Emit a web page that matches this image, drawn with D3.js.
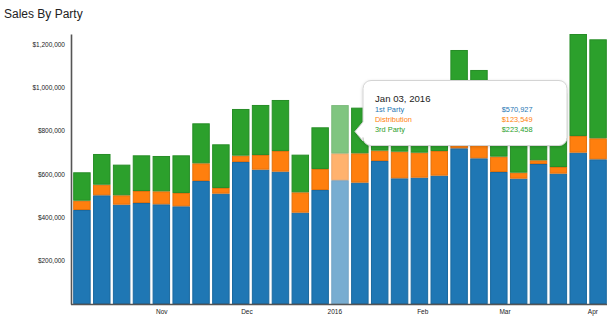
<!DOCTYPE html>
<html>
<head>
<meta charset="utf-8">
<script src="https://cdn.jsdelivr.net/npm/d3@7"></script>
<style>
  body { margin: 0; background: #fff; }
  svg { display: block; font-family: "Liberation Sans", Arial, sans-serif; }
  .axis text { fill: #222; font-size: 6.5px; }
  .axis path { stroke: #555; }
</style>
</head>
<body>
<script>
// weekly sales, split by party
const weeks = [
  '2015-10-04', '2015-10-11', '2015-10-18', '2015-10-25', '2015-11-01', '2015-11-08', '2015-11-15',
  '2015-11-22', '2015-11-29', '2015-12-06', '2015-12-13', '2015-12-20', '2015-12-27', '2016-01-03',
  '2016-01-10', '2016-01-17', '2016-01-24', '2016-01-31', '2016-02-07', '2016-02-14', '2016-02-21',
  '2016-02-28', '2016-03-06', '2016-03-13', '2016-03-20', '2016-03-27', '2016-04-03'
];
const firstParty = [
  433800, 501600, 458400, 466100, 460000, 450800, 567700, 509200, 655400, 620000, 610700, 421500, 526200, 570927,
  560000, 660000, 580000, 583000, 592300, 718500, 672300, 609200, 578400, 646100, 601500, 698400, 667700
];
const distribution = [
  42900, 49000, 43200, 55400, 60000, 61500, 81500, 26200, 29200, 67700, 95500, 93800, 96900, 123549,
  135400, 47700, 123000, 115300, 113900, 18000, 80000, 70800, 27600, 17000, 30800, 77000, 97000
];
const thirdParty = [
  131100, 141700, 141500, 164600, 163100, 173800, 184600, 201500, 215400, 230800, 235300, 173900, 192300, 223458,
  210700, 172000, 147000, 131700, 163800, 435700, 327700, 170000, 214000, 236900, 340000, 470600, 456800
];
const seriesNames = ['1st Party', 'Distribution', '3rd Party'];
const seriesColors = ['#1f77b4', '#ff7f0e', '#2ca02c'];
const yTicks = [200000, 400000, 600000, 800000, 1000000, 1200000];
const xTicks = ['2015-11-01', '2015-12-01', '2016-01-01', '2016-02-01', '2016-03-01', '2016-04-01'];
const hovered = 13;

const w = 613, h = 327;
const plotLeft = 72, plotRight = 608, plotTop = 34, plotBottom = 304;

const parse = d3.timeParse('%Y-%m-%d');
const keys = ['first', 'dist', 'third'];
const rows = weeks.map((d, i) => ({
  date: parse(d), first: firstParty[i], dist: distribution[i], third: thirdParty[i]
}));

const halfWeek = 3.5 * 24 * 3600 * 1000;
const x = d3.scaleTime()
  .domain([new Date(+rows[0].date - halfWeek), new Date(+rows[rows.length - 1].date + halfWeek)])
  .range([plotLeft, plotRight]);

const y = d3.scaleLinear()
  .domain([0, d3.max(rows, r => r.first + r.dist + r.third)])
  .range([plotBottom, plotTop]);

const pitch = x(rows[1].date) - x(rows[0].date);
const bw = pitch * 0.88;

const svg = d3.select('body').append('svg')
  .attr('width', w)
  .attr('height', h);

svg.append('text')
  .attr('x', 4)
  .attr('y', 18)
  .attr('font-size', 12)
  .attr('fill', '#222')
  .text('Sales By Party');

// stacked bars
const stacked = d3.stack().keys(keys)(rows);

const layers = svg.append('g').selectAll('g')
  .data(stacked)
  .enter()
  .append('g')
  .attr('fill', (d, i) => seriesColors[i])
  .attr('stroke', (d, i) => d3.color(seriesColors[i]).darker(0.35));

layers.selectAll('rect')
  .data(d => d)
  .enter()
  .append('rect')
  .attr('x', d => x(d.data.date) - bw / 2 + 0.5)
  .attr('y', d => y(d[1]) + 0.5)
  .attr('width', bw - 1)
  .attr('height', d => Math.max(0, y(d[0]) - y(d[1]) - 1))
  .attr('stroke-width', 1)
  .attr('opacity', (d, i) => i === hovered ? 0.6 : 1);

// axes
svg.append('g')
  .attr('class', 'axis')
  .attr('transform', `translate(${plotLeft - 1},0)`)
  .call(d3.axisLeft(y).tickValues(yTicks).tickSize(0).tickPadding(6).tickFormat(d3.format('$,.0f')))
  .call(g => g.select('.domain').attr('stroke-width', 1.6));

const monthFmt = d3.timeFormat('%b'), yearFmt = d3.timeFormat('%Y');
svg.append('g')
  .attr('class', 'axis')
  .attr('transform', `translate(0,${plotBottom})`)
  .call(d3.axisBottom(x).tickValues(xTicks.map(parse)).tickSize(0).tickPadding(5)
    .tickFormat(d => d.getMonth() === 0 ? yearFmt(d) : monthFmt(d)))
  .call(g => g.select('.domain').attr('stroke-width', 1.4).attr('d', `M${plotLeft - 1},0.5H${plotRight - 1}`));

// tooltip for the hovered week
const defs = svg.append('defs');
const shadow = defs.append('filter').attr('id', 'tipShadow')
  .attr('x', -0.1).attr('y', -0.2).attr('width', 1.2).attr('height', 1.4);
shadow.append('feDropShadow')
  .attr('dx', 0).attr('dy', 1).attr('stdDeviation', 1.5)
  .attr('flood-color', '#000').attr('flood-opacity', 0.18);

const tx0 = 363, ty0 = 80.5, tx1 = 567, ty1 = 145.5, rad = 8;
const tipX = 355, tipY = 131.5;
const tipPath = d3.path();
tipPath.moveTo(tx0 + rad, ty0);
tipPath.lineTo(tx1 - rad, ty0);
tipPath.arcTo(tx1, ty0, tx1, ty0 + rad, rad);
tipPath.lineTo(tx1, ty1 - rad);
tipPath.arcTo(tx1, ty1, tx1 - rad, ty1, rad);
tipPath.lineTo(tx0 + rad, ty1);
tipPath.arcTo(tx0, ty1, tx0, ty1 - rad, rad);
tipPath.lineTo(tx0, tipY + 9.5);
tipPath.lineTo(tipX, tipY);
tipPath.lineTo(tx0, tipY - 9.5);
tipPath.lineTo(tx0, ty0 + rad);
tipPath.arcTo(tx0, ty0, tx0 + rad, ty0, rad);
tipPath.closePath();

const tip = svg.append('g');
tip.append('path')
  .attr('d', tipPath.toString())
  .attr('fill', '#fff')
  .attr('stroke', '#d4d4d4')
  .attr('stroke-width', 1)
  .attr('filter', 'url(#tipShadow)');

const hr = rows[hovered];
tip.append('text')
  .attr('x', 375)
  .attr('y', 102)
  .attr('font-size', 9.6)
  .attr('fill', '#222')
  .text(d3.timeFormat('%b %d, %Y')(hr.date));

const money = d3.format('$,.0f');
keys.forEach((k, i) => {
  tip.append('text')
    .attr('x', 375)
    .attr('y', 112 + i * 9.8)
    .attr('font-size', 7.4)
    .attr('fill', seriesColors[i])
    .text(seriesNames[i]);
  tip.append('text')
    .attr('x', 532.5)
    .attr('y', 112 + i * 9.8)
    .attr('font-size', 7.4)
    .attr('text-anchor', 'end')
    .attr('fill', seriesColors[i])
    .text(money(hr[k]));
});
</script>
</body>
</html>
